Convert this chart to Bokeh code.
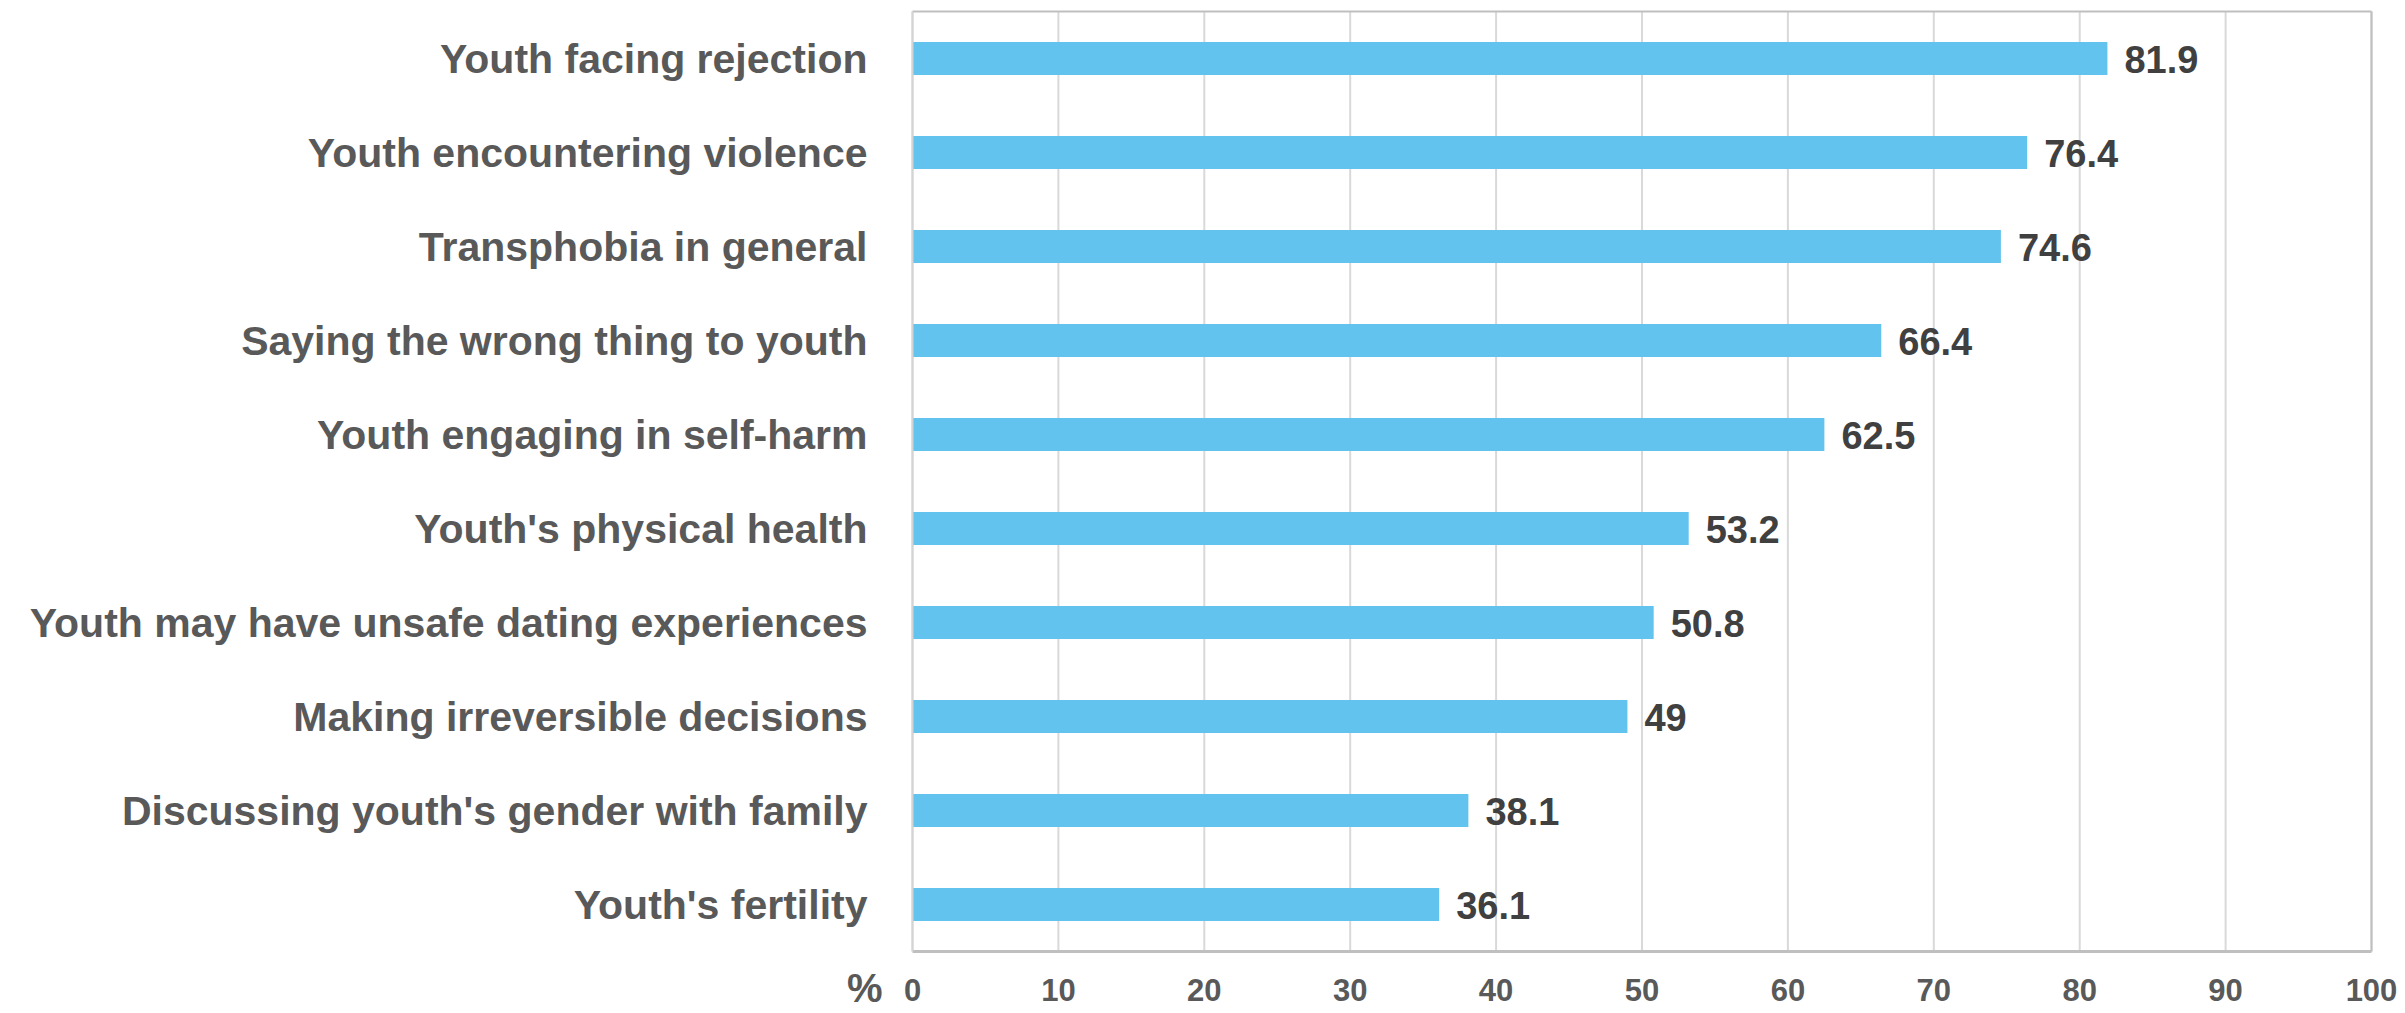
from bokeh.plotting import figure
from bokeh.models import Range1d, Label, ColumnDataSource, FixedTicker
from bokeh.core.properties import value
from bokeh.embed import file_html
from bokeh.resources import INLINE

categories = [
    "Youth facing rejection",
    "Youth encountering violence",
    "Transphobia in general",
    "Saying the wrong thing to youth",
    "Youth engaging in self-harm",
    "Youth's physical health",
    "Youth may have unsafe dating experiences",
    "Making irreversible decisions",
    "Discussing youth's gender with family",
    "Youth's fertility",
]
values = [81.9, 76.4, 74.6, 66.4, 62.5, 53.2, 50.8, 49, 38.1, 36.1]
value_labels = ["81.9", "76.4", "74.6", "66.4", "62.5", "53.2", "50.8", "49", "38.1", "36.1"]
x_ticks = [0, 10, 20, 30, 40, 50, 60, 70, 80, 90, 100]
axis_unit = "%"

FONT = "Liberation Sans"

# layout (pixels)
W, H = 2405, 1013
FL, FR, FT, FB = 912, 2371, 11, 951          # plot box edges inside the canvas
n = len(categories)
px_x = (FR - FL) / 100.0
px_y = (FB - FT) / n

ypos = [n - 0.5 - i for i in range(n)]       # category centres, first on top
src = ColumnDataSource(dict(y=ypos, val=values, lab=value_labels))
grid_src = ColumnDataSource(dict(x=x_ticks, y0=[0] * len(x_ticks), y1=[n] * len(x_ticks)))

p = figure(
    width=W, height=H,
    x_range=Range1d(-FL / px_x, 100 + (W - FR) / px_x),
    y_range=Range1d(-(H - FB) / px_y, n + FT / px_y),
    output_backend="svg", toolbar_location=None,
    min_border_left=0, min_border_right=0, min_border_top=0, min_border_bottom=0,
)
p.background_fill_color = "white"
p.border_fill_color = "white"
p.outline_line_color = None
p.xgrid.grid_line_color = None
p.ygrid.grid_line_color = None

# vertical gridlines
p.segment(x0="x", y0="y0", x1="x", y1="y1", source=grid_src,
          line_color="#d9d9d9", line_width=2)
# top and right border of the plot box
p.segment(x0=[0, 100], y0=[n, 0], x1=[100, 100], y1=[n, n],
          line_color="#bfbfbf", line_width=2)

p.hbar(y="y", right="val", left=0, height=0.35, source=src,
       fill_color="#62C3EE", line_color=None)

p.text(x="val", y="y", text="lab", source=src, x_offset=17, y_offset=1,
       text_font=value(FONT), text_font_style="bold", text_font_size="38px",
       text_color="#404040", text_baseline="middle", text_align="left")

# x axis pinned at y=0
xa = p.xaxis[0]
xa.fixed_location = 0
xa.bounds = (0, 100)
xa.ticker = FixedTicker(ticks=x_ticks)
xa.major_label_text_font = FONT
xa.major_label_text_font_style = "bold"
xa.major_label_text_font_size = "31px"
xa.major_label_text_color = "#595959"
xa.major_label_standoff = 27
xa.major_tick_out = 0
xa.major_tick_in = 0
xa.minor_tick_out = 0
xa.minor_tick_in = 0
xa.axis_line_color = "#bfbfbf"
xa.axis_line_width = 3

# y axis pinned at x=0
ya = p.yaxis[0]
ya.fixed_location = 0
ya.bounds = (0, n)
ya.ticker = FixedTicker(ticks=ypos)
ya.major_label_overrides = {y: c for y, c in zip(ypos, categories)}
ya.major_label_text_font = FONT
ya.major_label_text_font_style = "bold"
ya.major_label_text_font_size = "41px"
ya.major_label_text_color = "#595959"
ya.major_label_standoff = 45
ya.major_tick_out = 0
ya.major_tick_in = 0
ya.minor_tick_out = 0
ya.minor_tick_in = 0
ya.axis_line_color = "#d4d4d4"
ya.axis_line_width = 2

pct = Label(x=0, y=0, x_units="data", y_units="data", x_offset=-30, y_offset=-36,
            text=axis_unit, text_font=FONT, text_font_style="bold", text_font_size="40px",
            text_color="#595959", text_align="right", text_baseline="middle")
p.add_layout(pct)

open("out.html", "w").write(file_html(p, INLINE))
